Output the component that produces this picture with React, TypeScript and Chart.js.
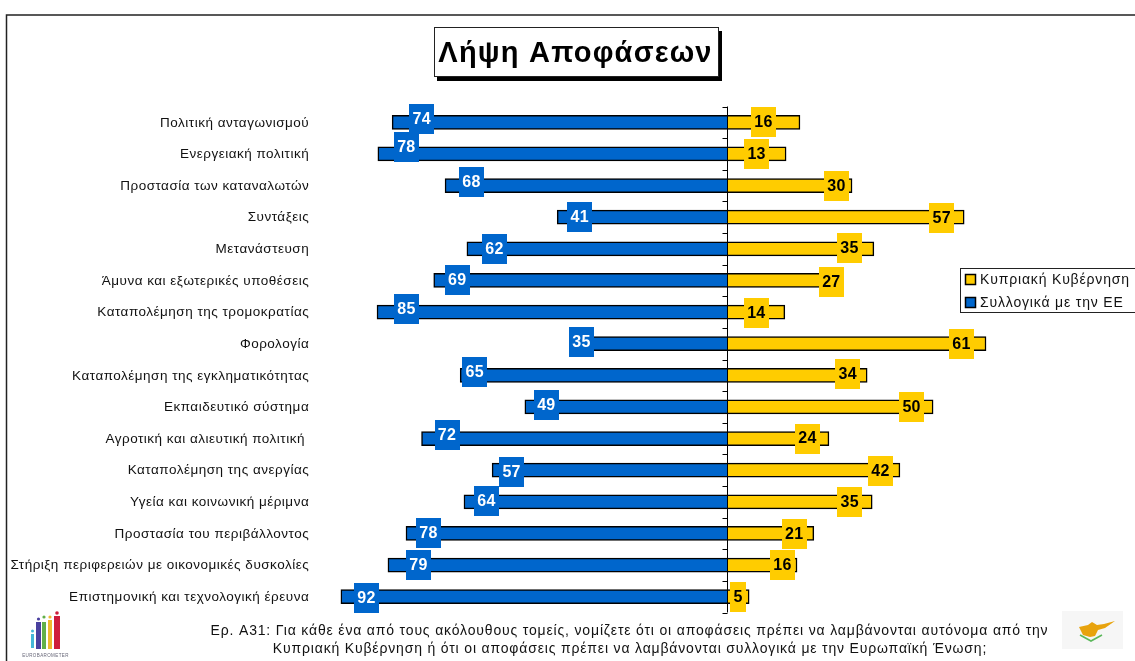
import React, { useEffect, useRef } from "react";
import { Chart, registerables } from "chart.js";

Chart.register(...registerables);

const topics = [
  "Πολιτική ανταγωνισμού",
  "Ενεργειακή πολιτική",
  "Προστασία των καταναλωτών",
  "Συντάξεις",
  "Μετανάστευση",
  "Άμυνα και εξωτερικές υποθέσεις",
  "Καταπολέμηση της τρομοκρατίας",
  "Φορολογία",
  "Καταπολέμηση της εγκληματικότητας",
  "Εκπαιδευτικό σύστημα",
  "Αγροτική και αλιευτική πολιτική ",
  "Καταπολέμηση της ανεργίας",
  "Υγεία και κοινωνική μέριμνα",
  "Προστασία του περιβάλλοντος",
  "Στήριξη περιφερειών με οικονομικές δυσκολίες",
  "Επιστημονική και τεχνολογική έρευνα",
];

// Values printed on the chart
const cyprusPrinted = [16, 13, 30, 57, 35, 27, 14, 61, 34, 50, 24, 42, 35, 21, 16, 5];
const euPrinted = [74, 78, 68, 41, 62, 69, 85, 35, 65, 49, 72, 57, 64, 78, 79, 92];

// Bar lengths as drawn in the picture (they differ slightly from the printed values)
const cyprusBars = [17.3, 14, 29.7, 56.4, 34.9, 26.8, 13.7, 61.6, 33.3, 49, 24.2, 41.1, 34.5, 20.6, 16.6, 5.2];
const euBars = [79.8, 83.2, 67.2, 40.5, 62, 69.9, 83.4, 37.2, 63.6, 48.2, 72.8, 56, 62.7, 76.5, 80.8, 92];

const seriesNames = ["Κυπριακή Κυβέρνηση", "Συλλογικά με την ΕΕ"];
const chartTitle = "Λήψη Αποφάσεων";
const footnote = [
  "Ερ. Α31: Για κάθε ένα από τους ακόλουθους τομείς, νομίζετε ότι οι αποφάσεις πρέπει να λαμβάνονται αυτόνομα από την",
  "Κυπριακή Κυβέρνηση ή ότι οι αποφάσεις πρέπει να λαμβάνονται συλλογικά με την Ευρωπαϊκή Ένωση;",
];

const YELLOW = "#FFCC00";
const BLUE = "#0066CC";
const FONT = '"Liberation Sans", Arial, sans-serif';

// Hand placement of the value boxes relative to the bar end / row centre (px)
const euNudgeX = [29.5, 28.5, 26.5, 22.5, 27.5, 23.5, 29.5, 10.5, 14.5, 21.5, 25.5, 19.5, 22.5, 22.5, 30.5, 25.5];
const euNudgeY = [-3.3, -6.6, -3.3, 0, 0, -0.5, -3, -1.7, -3.3, -2, -3.6, 1.8, -0.9, -0.5, 0, 1.3];
const cyNudgeX = [-36.5, -29.5, -15.5, -22.5, -24.5, -8.5, -28.5, -24.5, -19.5, -21.5, -21.5, -19.5, -22.5, -19.5, -14.5, -11];
const cyNudgeY = [0, 0, 0.4, 0.8, -0.8, 1.5, 0.9, 0.3, -1.3, 0, 0, 0.8, 0.1, 0.5, 0, 0.8];

const decorPlugin = {
  id: "decor",
  beforeDraw(chart: any) {
    const { ctx } = chart;
    ctx.letterSpacing = "0.5px";
    ctx.save();
    ctx.strokeStyle = "#222";
    ctx.lineWidth = 1.5;
    ctx.beginPath();
    ctx.moveTo(6.5, 661);
    ctx.lineTo(6.5, 15);
    ctx.lineTo(1135, 15);
    ctx.stroke();
    ctx.restore();
  },
  afterDatasetsDraw(chart: any) {
    const { ctx, scales } = chart;
    const x = scales.x;
    const y = scales.y;
    const zero = x.getPixelForValue(0);
    ctx.save();
    // centre axis with tick marks at the category boundaries
    ctx.strokeStyle = "#000";
    ctx.lineWidth = 1;
    ctx.beginPath();
    const ax = Math.round(zero) + 0.5;
    ctx.moveTo(ax, y.top);
    ctx.lineTo(ax, y.bottom);
    const band = (y.bottom - y.top) / topics.length;
    for (let i = 0; i <= topics.length; i++) {
      const ty = Math.round(y.top + band * i) + 0.5;
      ctx.moveTo(ax, ty);
      ctx.lineTo(ax - 5, ty);
    }
    ctx.stroke();

    // value boxes
    ctx.textAlign = "center";
    ctx.textBaseline = "middle";
    const box = (text: string, cx: number, cy: number, bg: string, fg: string) => {
      ctx.letterSpacing = "0.3px";
      ctx.font = `bold 16px ${FONT}`;
      const w = Math.round(ctx.measureText(text).width) + 7;
      ctx.fillStyle = bg;
      ctx.fillRect(Math.round(cx - w / 2), Math.round(cy - 15), w, 30);
      ctx.fillStyle = fg;
      ctx.fillText(text, cx, cy + 0.5);
    };
    topics.forEach((_, i) => {
      const cy = y.getPixelForValue(i);
      box(String(euPrinted[i]), x.getPixelForValue(-euBars[i]) + euNudgeX[i], cy + euNudgeY[i], BLUE, "#fff");
      box(String(cyprusPrinted[i]), x.getPixelForValue(cyprusBars[i]) + cyNudgeX[i], cy + cyNudgeY[i], YELLOW, "#000");
    });
    ctx.restore();
  },
  afterDraw(chart: any) {
    const { ctx } = chart;
    ctx.save();
    // title box
    ctx.fillStyle = "#000";
    ctx.fillRect(437, 31, 285, 50);
    ctx.fillStyle = "#fff";
    ctx.fillRect(434, 27, 285, 50);
    ctx.strokeStyle = "#222";
    ctx.lineWidth = 1;
    ctx.strokeRect(434.5, 27.5, 284, 49);
    ctx.fillStyle = "#000";
    ctx.font = `bold 29px ${FONT}`;
    ctx.letterSpacing = "1.2px";
    ctx.textAlign = "center";
    ctx.textBaseline = "alphabetic";
    ctx.fillText(chartTitle, 575.5, 62);

    // legend
    ctx.fillStyle = "#fff";
    ctx.fillRect(960, 268, 175, 45);
    ctx.strokeStyle = "#222";
    ctx.strokeRect(960.5, 268.5, 175, 44);
    ctx.font = `14px ${FONT}`;
    ctx.letterSpacing = "0.83px";
    ctx.textAlign = "left";
    ctx.textBaseline = "middle";
    chart.data.datasets.forEach((ds: any, i: number) => {
      const sy = 274.5 + i * 23;
      ctx.fillStyle = ds.backgroundColor;
      ctx.fillRect(965.5, sy, 10, 10);
      ctx.strokeStyle = "#000";
      ctx.lineWidth = 1.5;
      ctx.strokeRect(965.5, sy, 10, 10);
      ctx.fillStyle = "#111";
      ctx.fillText(ds.label, 980, sy + 5.5);
    });

    // footnote
    ctx.font = `14px ${FONT}`;
    ctx.letterSpacing = "0.83px";
    ctx.textAlign = "center";
    ctx.textBaseline = "middle";
    ctx.fillStyle = "#111";
    ctx.fillText(footnote[0], 629.5, 631);
    ctx.fillText(footnote[1], 630, 649);
    ctx.restore();
  },
};

export default function App() {
  const ref = useRef<HTMLCanvasElement>(null);
  useEffect(() => {
    const chart = new Chart(ref.current!, {
      type: "bar",
      plugins: [decorPlugin],
      data: {
        labels: topics,
        datasets: [
          {
            label: seriesNames[0],
            data: cyprusBars,
            backgroundColor: YELLOW,
            borderColor: "#000",
            borderWidth: 1.5,
            barThickness: 14,
          },
          {
            label: seriesNames[1],
            data: euBars.map((v) => -v),
            backgroundColor: BLUE,
            borderColor: "#000",
            borderWidth: 1.5,
            barThickness: 14,
          },
        ],
      },
      options: {
        indexAxis: "y",
        responsive: false,
        animation: false,
        layout: { padding: { left: 0, right: 29.7, top: 106.5, bottom: 48.5 } },
        plugins: { legend: { display: false }, title: { display: false }, tooltip: { enabled: false } },
        scales: {
          x: { type: "linear", min: -98, max: 90, stacked: true, display: false },
          y: {
            type: "category",
            stacked: true,
            position: "left",
            afterFit(s: any) {
              s.width = 315.7;
            },
            grid: { display: false, tickLength: 0 },
            border: { display: false },
            ticks: {
              autoSkip: false,
              padding: 6.5,
              labelOffset: 0.5,
              color: "#111",
              font: { family: FONT, size: 13.5 },
            },
          },
        },
      },
    } as any);
    return () => chart.destroy();
  }, []);

  return (
    <div style={{ position: "fixed", left: 0, top: 0, width: 1135, height: 661, background: "#fff", overflow: "hidden" }}>
      <canvas ref={ref} width={1135} height={661} style={{ display: "block" }} />
      <svg width={1135} height={661} style={{ position: "absolute", left: 0, top: 0, pointerEvents: "none" }}>
        <defs>
          <filter id="soft"><feGaussianBlur stdDeviation="0.6" /></filter>
        </defs>
        <rect x={1062} y={611} width={61} height={38} fill="#f6f6f6" />
        <g filter="url(#soft)">
          <path d="M1079 627 L1088 625 L1092 622 L1097 625 L1104 624 L1115 621 L1105 628 L1098 630 L1095 636 L1090 637 L1083 635 Z" fill="#E8A30C" />
          <polyline points="1080,635 1091,641 1102,635" fill="none" stroke="#5cb85c" strokeWidth={1.6} />
          <rect x={31} y={634} width={3} height={14} fill="#45b7d8" />
          <circle cx={32.5} cy={631} r={1.5} fill="#45b7d8" />
          <rect x={36} y={622} width={5} height={27} fill="#4a3f9f" />
          <circle cx={38.5} cy={619} r={1.6} fill="#4a3f9f" />
          <rect x={42} y={622} width={4} height={27} fill="#62b04a" />
          <circle cx={44} cy={617} r={1.6} fill="#62b04a" />
          <rect x={48} y={620} width={4} height={29} fill="#f0b92d" />
          <circle cx={50} cy={617} r={1.6} fill="#f0b92d" />
          <rect x={54} y={616} width={6} height={33} fill="#cf1f3a" />
          <circle cx={57} cy={613} r={1.8} fill="#cf1f3a" />
        </g>
        <text x={45.5} y={657} fontSize={4.5} fontFamily="Liberation Sans" fill="#667" textAnchor="middle" letterSpacing={0.4}>EUROBAROMETER</text>
      </svg>
    </div>
  );
}
